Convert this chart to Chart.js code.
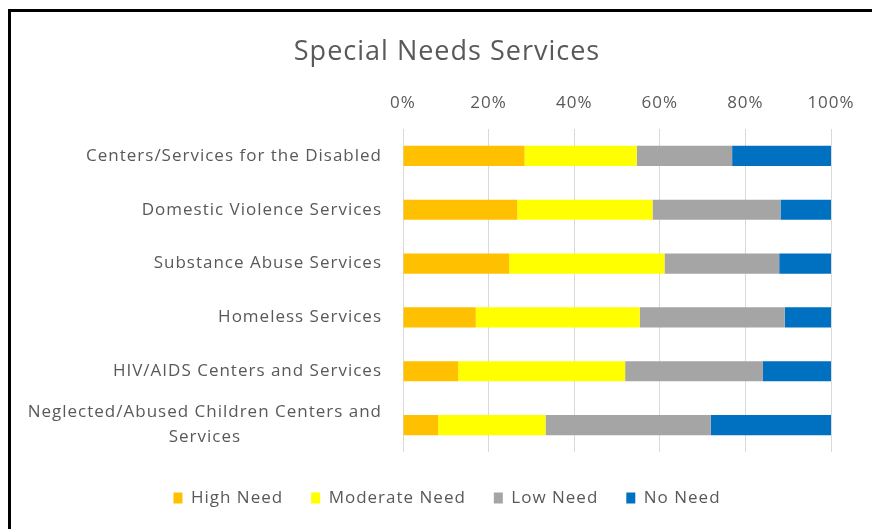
<!DOCTYPE html>
<html>
<head>
<meta charset="utf-8">
<script src="https://cdn.jsdelivr.net/npm/chart.js@4"></script>
<style>
  html, body { margin: 0; padding: 0; background: #fff; }
  #wrap { position: relative; width: 872px; height: 529px; }
  #frame { position: absolute; left: 8px; top: 9px; right: -5px; bottom: -5px;
           border-left: 3px solid #000; border-top: 3px solid #000; pointer-events: none; }
</style>
</head>
<body>
<div id="wrap">
  <canvas id="chart" width="872" height="529"></canvas>
  <div id="frame"></div>
</div>
<script>
const categories = [
    "Centers/Services for the Disabled",
    "Domestic Violence Services",
    "Substance Abuse Services",
    "Homeless Services",
    "HIV/AIDS Centers and Services",
    ["Neglected/Abused Children Centers and", "Services"]
];
const highNeed = [28.4, 26.7, 24.8, 17.0, 12.9, 8.2];
const moderateNeed = [26.2, 31.6, 36.3, 38.3, 39.0, 25.1];
const lowNeed = [22.3, 29.9, 26.8, 33.9, 32.2, 38.6];
const noNeed = [23.1, 11.8, 12.1, 10.8, 15.9, 28.1];
const xTicks = [0, 20, 40, 60, 80, 100];

const FONT = "'Open Sans', 'Noto Sans', sans-serif";
const TEXT = "#595959";

// the Excel text is set a bit wider than Open Sans
const spacing = {
    id: "spacing",
    beforeLayout(chart) { chart.ctx.letterSpacing = "1px"; },
    beforeDraw(chart) { chart.ctx.letterSpacing = "1px"; }
};

// draw category labels ourselves so a wrapped label is centred like in Excel
const catLabels = {
    id: "catLabels",
    afterDraw(chart) {
        const ctx = chart.ctx;
        const y = chart.scales.y;
        const right = chart.chartArea.left - 21;
        ctx.save();
        ctx.letterSpacing = "1px";
        ctx.font = "17px " + FONT;
        ctx.fillStyle = TEXT;
        ctx.textBaseline = "middle";
        ctx.textAlign = "center";
        categories.forEach((c, i) => {
            const lines = Array.isArray(c) ? c : [c];
            const widest = Math.max(...lines.map(l => ctx.measureText(l).width));
            const cx = right - widest / 2;
            const cy = y.getPixelForValue(i);
            const lh = 25;
            lines.forEach((l, j) => {
                ctx.fillText(l, cx, cy + (j - (lines.length - 1) / 2) * lh);
            });
        });
        ctx.restore();
    }
};

// legend needs wide gaps between items but not that much height
const legendFit = {
    id: "legendFit",
    beforeLayout(chart) {
        const lg = chart.legend;
        if (lg && !lg._patched) {
            const orig = lg.fit;
            lg.fit = function () {
                orig.call(this);
                this.height = 46;
            };
            lg._patched = true;
        }
    }
};

const ctx = document.getElementById("chart").getContext("2d");

new Chart(ctx, {
    type: "bar",
    data: {
        labels: categories,
        datasets: [
            { label: "High Need", data: highNeed, backgroundColor: "#FFC000" },
            { label: "Moderate Need", data: moderateNeed, backgroundColor: "#FFFF00" },
            { label: "Low Need", data: lowNeed, backgroundColor: "#A5A5A5" },
            { label: "No Need", data: noNeed, backgroundColor: "#0070C0" }
        ]
    },
    options: {
        indexAxis: "y",
        responsive: false,
        animation: false,
        categoryPercentage: 1,
        barPercentage: 0.375,
        layout: { padding: { left: 63, right: 41, top: 36, bottom: 21.5 } },
        plugins: {
            title: {
                display: true,
                text: "Special Needs Services",
                color: TEXT,
                font: { family: FONT, size: 27, weight: "normal" },
                padding: 0
            },
            legend: {
                position: "bottom",
                labels: {
                    color: TEXT,
                    font: { family: FONT, size: 17 },
                    boxWidth: 9,
                    boxHeight: 11,
                    padding: 28
                }
            },
            tooltip: { enabled: false }
        },
        scales: {
            x: {
                position: "top",
                stacked: true,
                min: 0,
                max: 100,
                afterBuildTicks(s) { s.ticks = xTicks.map(v => ({ value: v })); },
                afterFit(s) { s.height = 129 - 68.4; },
                border: { display: false },
                grid: { color: "#D9D9D9", drawTicks: false },
                ticks: {
                    color: TEXT,
                    font: { family: FONT, size: 17 },
                    padding: 16,
                    callback: v => v + "%"
                }
            },
            xb: {
                type: "linear",
                position: "bottom",
                display: true,
                border: { display: false },
                grid: { display: false },
                ticks: { display: false },
                afterFit(s) { s.height = 9.5; }
            },
            y: {
                stacked: true,
                border: { display: false },
                grid: { display: false },
                ticks: { display: false },
                afterFit(s) { s.width = 403 - 63; }
            }
        }
    },
    plugins: [spacing, catLabels, legendFit]
});
</script>
</body>
</html>
